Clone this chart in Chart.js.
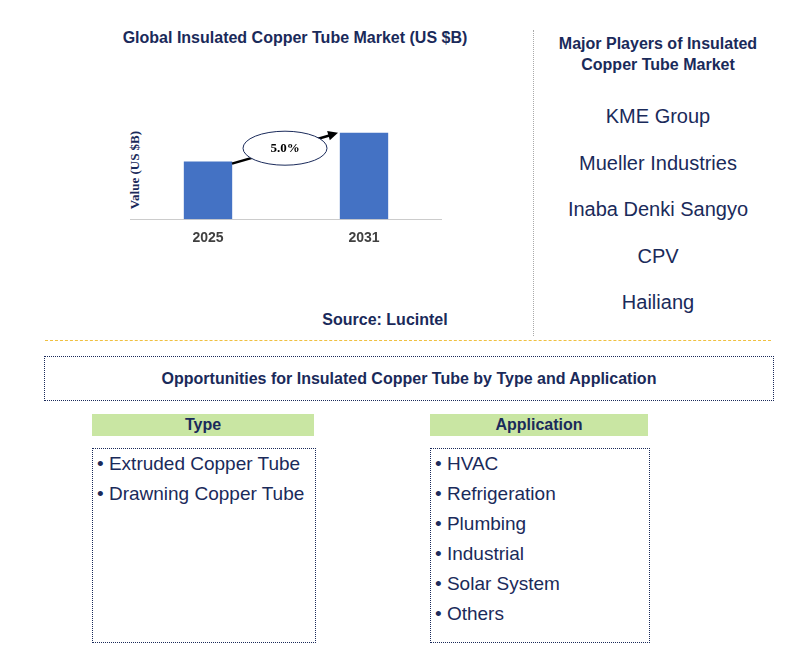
<!DOCTYPE html>
<html><head><meta charset="utf-8">
<script src="https://cdn.jsdelivr.net/npm/chart.js@4"></script>
<style>
body{margin:0;width:803px;height:657px;background:#fff;font-family:"Liberation Sans",Arial,sans-serif;color:#1a2a5a;position:relative;overflow:hidden}
.abs{position:absolute}
.t{font-weight:bold;font-size:15px;text-align:center}
.p{font-size:20px;width:250px;left:533px;text-align:center;color:#1a2a5a}
.box{border:1px dotted #1a2a5a}
.hd{background:#c9e6a3;font-weight:bold;font-size:16px;text-align:center;height:22px;line-height:22px}
ul{list-style:none;margin:0;padding:0 0 0 4px;font-size:19px;line-height:30px}
</style></head><body>
<div class="abs t" style="left:90px;top:29px;width:410px;font-size:16px">Global Insulated Copper Tube Market (US $B)</div>
<div class="abs" style="left:80px;top:162px;width:110px;transform:rotate(-90deg);font:bold 13px 'Liberation Serif',serif;text-align:center">Value (US $B)</div>
<div class="abs" style="left:130px;top:100px;width:312px;height:150px"><canvas id="c"></canvas></div>
<div class="abs t" style="left:300px;top:311px;width:170px;font-size:16px">Source: Lucintel</div>
<div class="abs" style="left:533px;top:30px;height:306px;border-left:1px dotted #aaa"></div>
<div class="abs t" style="left:533px;top:33px;width:250px;line-height:21px;font-size:16px">Major Players of Insulated<br>Copper Tube Market</div>
<div id="players"></div>
<div class="abs" style="left:45px;top:340px;width:726px;border-top:1px dashed #f0c040"></div>
<div class="abs box t" style="left:44px;top:356px;width:728px;height:43px;line-height:43px;font-size:16px">Opportunities for Insulated Copper Tube by Type and Application</div>
<div class="abs hd" style="left:92px;top:414px;width:222px">Type</div>
<div class="abs box" style="left:92px;top:448px;width:222px;height:193px"><ul id="types"></ul></div>
<div class="abs hd" style="left:430px;top:414px;width:218px">Application</div>
<div class="abs box" style="left:430px;top:448px;width:218px;height:193px"><ul id="apps"></ul></div>
<script>
const years = ['2025', '2031'];
const values = [2.0, 3.0];
const cagr = '5.0%';
const players = ['KME Group', 'Mueller Industries', 'Inaba Denki Sangyo', 'CPV', 'Hailiang'];
const types = ['Extruded Copper Tube', 'Drawning Copper Tube'];
const apps = ['HVAC', 'Refrigeration', 'Plumbing', 'Industrial', 'Solar System', 'Others'];

players.forEach((p, i) => {
    const d = document.createElement('div');
    d.className = 'abs p'; d.style.top = (105 + i * 46.5) + 'px'; d.textContent = p;
    document.body.appendChild(d);
});
document.getElementById('types').innerHTML = types.map(t => '<li>• ' + t + '</li>').join('');
document.getElementById('apps').innerHTML = apps.map(t => '<li>• ' + t + '</li>').join('');

// flèche + ellipse CAGR entre les deux barres
const cagrPlugin = {
    id: 'cagr',
    afterDatasetsDraw(chart) {
        const ctx = chart.ctx, m = chart.getDatasetMeta(0).data;
        const x1 = m[0].x + 24, y1 = m[0].y + 2, x2 = m[1].x - 26, y2 = m[1].y;
        ctx.save();
        ctx.strokeStyle = '#000'; ctx.lineWidth = 2.5;
        ctx.beginPath(); ctx.moveTo(x1, y1); ctx.lineTo(x2 - 6, y2 + 2); ctx.stroke();
        const a = Math.atan2(y2 - y1, x2 - x1);
        ctx.fillStyle = '#000'; ctx.beginPath();
        ctx.moveTo(x2, y2);
        ctx.lineTo(x2 - 11 * Math.cos(a - 0.45), y2 - 11 * Math.sin(a - 0.45));
        ctx.lineTo(x2 - 11 * Math.cos(a + 0.45), y2 - 11 * Math.sin(a + 0.45));
        ctx.fill();
        const cx = (x1 + x2) / 2, cy = (y1 + y2) / 2;
        ctx.beginPath(); ctx.ellipse(cx, cy, 42, 17, 0, 0, Math.PI * 2);
        ctx.fillStyle = '#fff'; ctx.fill(); ctx.strokeStyle = '#1a2a5a'; ctx.lineWidth = 1; ctx.stroke();
        ctx.fillStyle = '#000'; ctx.font = "bold 13px 'Liberation Serif',serif";
        ctx.textAlign = 'center'; ctx.textBaseline = 'middle'; ctx.fillText(cagr, cx, cy);
        ctx.restore();
    },
};

new Chart(document.getElementById('c'), {
    type: 'bar',
    data: { labels: years, datasets: [{ data: values, backgroundColor: '#4472c4', barPercentage: 0.62, categoryPercentage: 0.5 }] },
    options: {
        responsive: true, maintainAspectRatio: false, animation: false,
        layout: { padding: { top: 4, left: 0, right: 0 } },
        plugins: { legend: { display: false }, tooltip: { enabled: false } },
        scales: {
            y: { display: false, min: 0, max: 4 },
            x: { grid: { display: false }, border: { color: '#ccc' }, ticks: { color: '#404040', font: { size: 14, weight: 'bold', family: "'Liberation Sans',Arial" } } },
        },
    },
    plugins: [cagrPlugin],
});
</script>
</body></html>
